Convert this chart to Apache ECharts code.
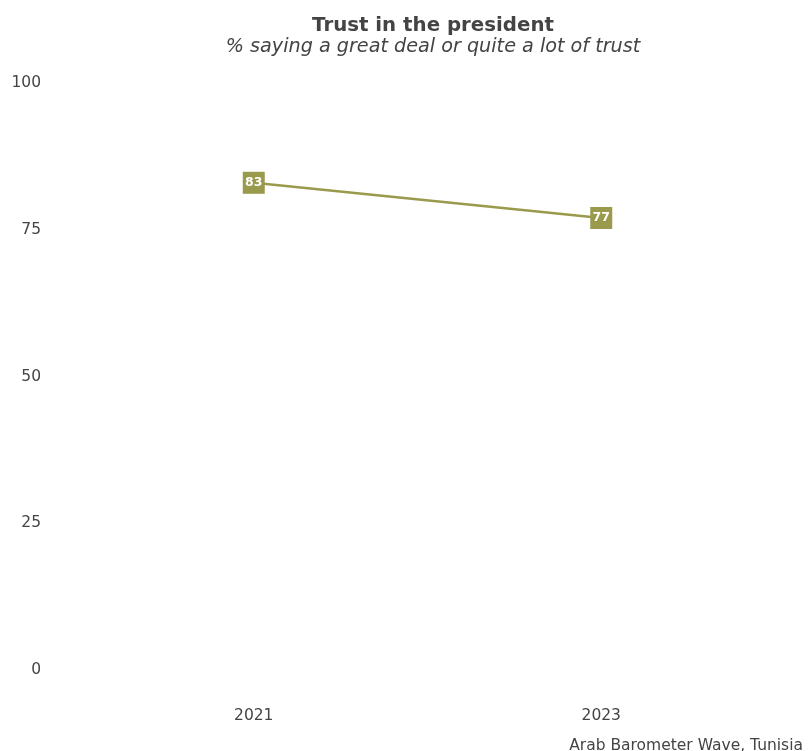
<!DOCTYPE html>
<html><head><meta charset="utf-8">
<script src="https://cdn.jsdelivr.net/npm/echarts@6/dist/echarts.min.js"></script>
<style>html,body{margin:0;padding:0;background:#fff}#c{width:812px;height:751px}</style>
</head><body><div id="c"></div>
<script>
const years = ['2021', '2023'];
const trust = [83, 77];
const yTicks = [0, 25, 50, 75, 100];

const FONT = 'DejaVu Sans';
const OLIVE = '#9a9a4c';
const chart = echarts.init(document.getElementById('c'), null, {renderer: 'canvas'});
chart.setOption({
  backgroundColor: '#fff',
  animation: false,
  title: [
    {text: 'Trust in the president', left: 428, textAlign: 'center', top: 11, textStyle: {fontFamily: FONT, fontSize: 19.8, fontWeight: 'bold', color: '#444'}},
    {text: '% saying a great deal or quite a lot of trust', left: 428, textAlign: 'center', top: 33, textStyle: {fontFamily: FONT, fontSize: 19.2, fontStyle: 'italic', fontWeight: 'normal', color: '#444'}},
    {text: 'Arab Barometer Wave, Tunisia', right: 4, top: 733, textStyle: {fontFamily: FONT, fontSize: 15.5, fontWeight: 'normal', color: '#444'}}
  ],
  grid: {left: 80, right: 37, top: 83, bottom: 81},
  xAxis: {
    type: 'category', data: years, boundaryGap: true,
    axisLine: {show: false}, axisTick: {show: false},
    axisLabel: {fontFamily: FONT, fontSize: 15.5, color: '#444', margin: 38}
  },
  yAxis: {
    type: 'value', min: yTicks[0], max: yTicks[yTicks.length - 1], interval: 25,
    splitLine: {show: false}, axisLine: {show: false}, axisTick: {show: false},
    axisLabel: {fontFamily: FONT, fontSize: 15.5, color: '#444', margin: 39}
  },
  series: [{
    type: 'line', data: trust, symbol: 'rect', symbolSize: 22, showSymbol: true,
    itemStyle: {color: OLIVE},
    lineStyle: {color: OLIVE, width: 2.5},
    label: {show: true, position: 'inside', fontFamily: FONT, fontSize: 12.5, fontWeight: 'bold', color: '#fff'}
  }]
});
</script></body></html>
